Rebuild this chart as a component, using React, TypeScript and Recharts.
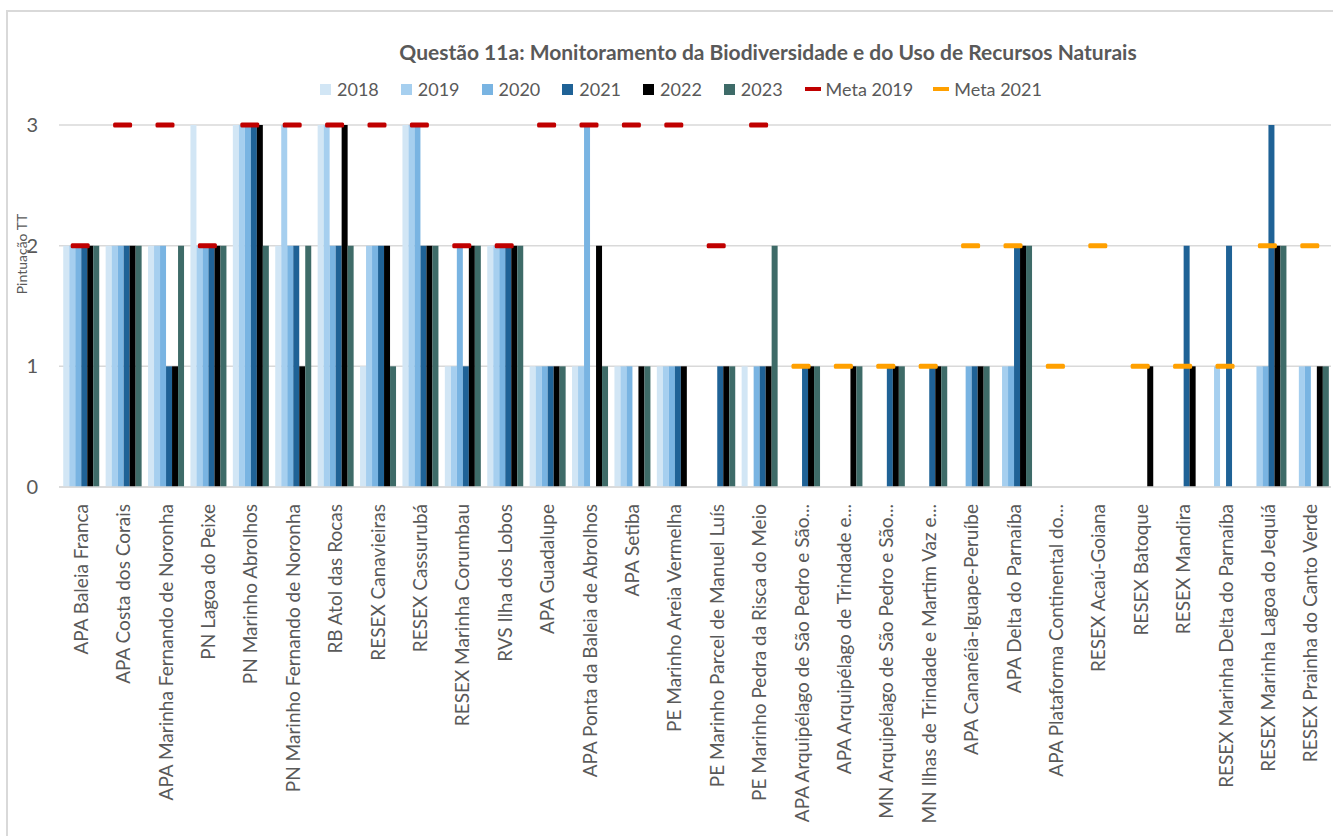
import React from 'react';
import { ComposedChart, Bar, Line, XAxis, YAxis, CartesianGrid } from 'recharts';

// Categories (truncated the same way as in the original axis)
const categories = [
  'APA Baleia Franca',
  'APA Costa dos Corais',
  'APA Marinha Fernando de Noronha',
  'PN Lagoa do Peixe',
  'PN Marinho Abrolhos',
  'PN Marinho Fernando de Noronha',
  'RB Atol das Rocas',
  'RESEX Canavieiras',
  'RESEX Cassurubá',
  'RESEX Marinha Corumbau',
  'RVS Ilha dos Lobos',
  'APA Guadalupe',
  'APA Ponta da Baleia de Abrolhos',
  'APA Setiba',
  'PE Marinho Areia Vermelha',
  'PE Marinho Parcel de Manuel Luís',
  'PE Marinho Pedra da Risca do Meio',
  'APA Arquipélago de São Pedro e São...',
  'APA Arquipélago de Trindade e...',
  'MN Arquipélago de São Pedro e São...',
  'MN Ilhas de Trindade e Martim Vaz e...',
  'APA Cananéia-Iguape-Peruíbe',
  'APA Delta do Parnaíba',
  'APA Plataforma Continental do...',
  'RESEX Acaú-Goiana',
  'RESEX Batoque',
  'RESEX Mandira',
  'RESEX Marinha Delta do Parnaíba',
  'RESEX Marinha Lagoa do Jequiá',
  'RESEX Prainha do Canto Verde',
];

const _ = null;
const v2018 = [2, 2, 2, 3, 3, 2, 3, 1, 3, 1, 2, 1, 1, 1, 1, _, 1, _, _, _, _, _, _, _, _, _, _, _, _, _];
const v2019 = [2, 2, 2, 2, 3, 3, 3, 2, 3, 1, 2, 1, 1, 1, 1, _, _, _, _, _, _, _, 1, _, _, _, _, 1, 1, 1];
const v2020 = [2, 2, 2, 2, 3, 2, 2, 2, 3, 2, 2, 1, 3, 1, 1, _, 1, _, _, _, _, 1, 1, _, _, _, _, _, 1, 1];
const v2021 = [2, 2, 1, 2, 3, 2, 2, 2, 2, 1, 2, 1, _, _, 1, 1, 1, 1, _, 1, 1, 1, 2, _, _, _, 2, 2, 3, _];
const v2022 = [2, 2, 1, 2, 3, 1, 3, 2, 2, 2, 2, 1, 2, 1, 1, 1, 1, 1, 1, 1, 1, 1, 2, _, _, 1, 1, _, 2, 1];
const v2023 = [2, 2, 2, 2, 2, 2, 2, 1, 2, 2, 2, 1, 1, 1, _, 1, 2, 1, 1, 1, 1, 1, 2, _, _, _, _, _, 2, 1];
const meta2019 = [2, 3, 3, 2, 3, 3, 3, 3, 3, 2, 2, 3, 3, 3, 3, 2, 3, _, _, _, _, _, _, _, _, _, _, _, _, _];
const meta2021 = [_, _, _, _, _, _, _, _, _, _, _, _, _, _, _, _, _, 1, 1, 1, 1, 2, 2, 1, 2, 1, 1, 1, 2, 2];

const yTicks = [0, 1, 2, 3];

const barSeries = [
  { key: 'y2018', name: '2018', color: '#D2E6F5' },
  { key: 'y2019', name: '2019', color: '#A6CFEF' },
  { key: 'y2020', name: '2020', color: '#79B4E2' },
  { key: 'y2021', name: '2021', color: '#1F6296' },
  { key: 'y2022', name: '2022', color: '#000000' },
  { key: 'y2023', name: '2023', color: '#3E6B68' },
];
const metaSeries = [
  { key: 'meta2019', name: 'Meta 2019', color: '#C00000' },
  { key: 'meta2021', name: 'Meta 2021', color: '#FFA000' },
];

const data = categories.map((name, i) => ({
  name,
  y2018: v2018[i],
  y2019: v2019[i],
  y2020: v2020[i],
  y2021: v2021[i],
  y2022: v2022[i],
  y2023: v2023[i],
  meta2019: meta2019[i],
  meta2021: meta2021[i],
}));

const FONT = 'Lato, "Liberation Sans", sans-serif';
const GREY = '#595959';

const CategoryTick = (props: any) => {
  const { x, y, payload } = props;
  const ty = y + 9;
  return (
    <text
      x={x}
      y={ty}
      transform={`rotate(-90, ${x}, ${ty})`}
      textAnchor="end"
      dominantBaseline="central"
      fill={GREY}
      fontSize={19}
      fontFamily={FONT}
    >
      {payload.value}
    </text>
  );
};

// meta values are drawn as short horizontal dashes (marker only, no line)
const dash = (color: string) => (props: any) => {
  const { cx, cy, value, index } = props;
  if (value == null || cy == null || isNaN(cy)) return <g key={`d-${index}`} />;
  return <rect key={`d-${index}`} x={cx - 9.5} y={cy - 2.5} width={19} height={5} rx={1.5} fill={color} />;
};

const LegendBox = () => (
  <div
    style={{
      position: 'absolute', left: 320, top: 77, display: 'flex', alignItems: 'center',
      fontFamily: FONT, fontSize: 18, color: GREY, lineHeight: '24px', whiteSpace: 'nowrap',
    }}
  >
    {barSeries.map((s) => (
      <div key={s.key} style={{ display: 'flex', alignItems: 'center', marginRight: 22 }}>
        <span style={{ width: 11, height: 11, background: s.color, marginRight: 6, display: 'inline-block' }} />
        <span>{s.name}</span>
      </div>
    ))}
    {metaSeries.map((s) => (
      <div key={s.key} style={{ display: 'flex', alignItems: 'center', marginRight: 20 }}>
        <span style={{ width: 16, height: 4, background: s.color, marginRight: 5, display: 'inline-block' }} />
        <span>{s.name}</span>
      </div>
    ))}
  </div>
);

const App = () => {
  return (
    <div style={{ position: 'absolute', left: 0, top: 0, width: 1333, height: 836, background: '#fff', overflow: 'hidden' }}>
      {/* chart area border (only left/top visible in the crop) */}
      <div style={{ position: 'absolute', left: 6, top: 10, width: 1400, height: 900, borderLeft: '2px solid #D9D9D9', borderTop: '2px solid #D9D9D9' }} />
      <div
        style={{
          position: 'absolute', left: 268, top: 37, width: 1000, textAlign: 'center',
          fontFamily: FONT, fontWeight: 'bold', fontSize: 21, color: GREY, lineHeight: '30px',
        }}
      >
        Questão 11a: Monitoramento da Biodiversidade e do Uso de Recursos Naturais
      </div>
      <LegendBox />
      <ComposedChart
        width={1333}
        height={836}
        data={data}
        margin={{ top: 125, right: 2, bottom: 0, left: 0 }}
        barCategoryGap="10%"
        barGap={0}
        style={{ position: 'absolute', left: 0, top: 0 }}
      >
        <CartesianGrid vertical={false} stroke="#D9D9D9" strokeWidth={1.5} />
        <XAxis
          dataKey="name"
          interval={0}
          height={349}
          tick={<CategoryTick />}
          tickLine={false}
          axisLine={{ stroke: '#D9D9D9', strokeWidth: 1.5 }}
        />
        <YAxis
          width={59}
          domain={[0, 3]}
          ticks={yTicks}
          tickLine={false}
          axisLine={false}
          tickMargin={15}
          tick={{ fill: GREY, fontSize: 20, fontFamily: FONT }}
          label={{
            content: () => (
              <text x={21} y={254} transform="rotate(-90, 21, 254)" textAnchor="middle" dominantBaseline="central" fill={GREY} fontSize={14} fontFamily={FONT}>
                Pintuação TT
              </text>
            ),
          }}
        />
        {barSeries.map((s) => (
          <Bar key={s.key} dataKey={s.key} name={s.name} fill={s.color} isAnimationActive={false} />
        ))}
        {metaSeries.map((s) => (
          <Line
            key={s.key}
            dataKey={s.key}
            name={s.name}
            stroke="none"
            dot={dash(s.color)}
            activeDot={false}
            isAnimationActive={false}
            connectNulls={false}
          />
        ))}
      </ComposedChart>
    </div>
  );
};

export default App;
